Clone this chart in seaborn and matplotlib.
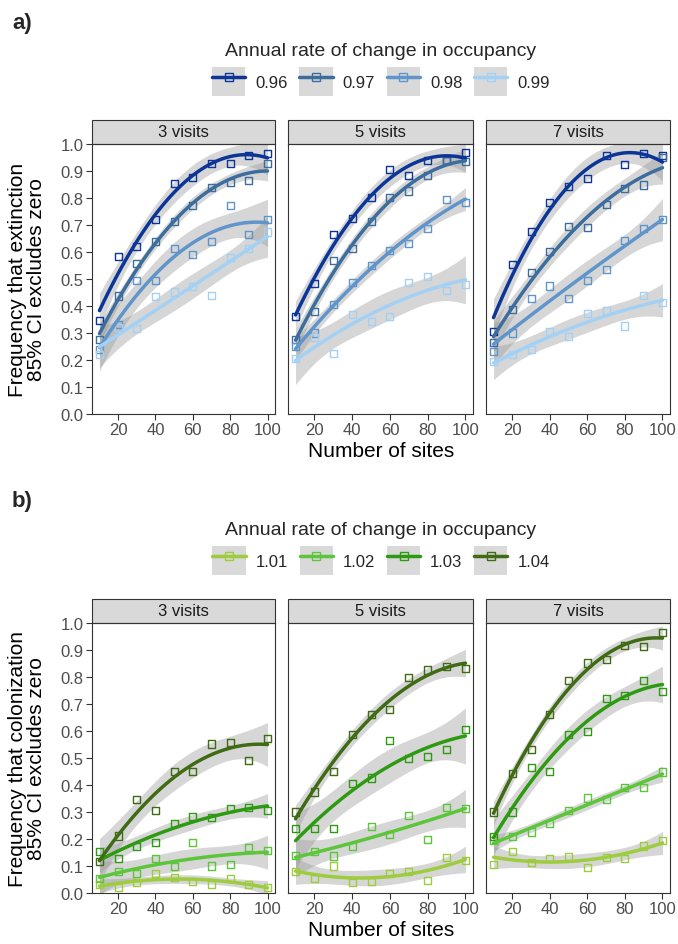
import numpy as np
import pandas as pd
import matplotlib
matplotlib.use("Agg")
import matplotlib.pyplot as plt
import seaborn as sns
from matplotlib.patches import Rectangle, Patch
from matplotlib.lines import Line2D
from matplotlib.legend_handler import HandlerTuple

sns.set_theme(style="white")
plt.rcParams["font.family"] = ["Liberation Sans", "DejaVu Sans"]

# ---------------- data ----------------
sites = [10, 20, 30, 40, 50, 60, 70, 80, 90, 100]
visits = ["3 visits", "5 visits", "7 visits"]
ext_rates = ["0.96", "0.97", "0.98", "0.99"]
col_rates = ["1.01", "1.02", "1.03", "1.04"]
ext_colors = ["#0b3596", "#3c6d9c", "#5f95cb", "#a3d0f5"]
col_colors = ["#9dcc3e", "#5cc53a", "#2e9a12", "#3e6b14"]
y_ticks = [0.0, 0.1, 0.2, 0.3, 0.4, 0.5, 0.6, 0.7, 0.8, 0.9, 1.0]
x_ticks = [20, 40, 60, 80, 100]

# extinction (a)
ext_3v_096 = [0.345, 0.585, 0.62, 0.72, 0.853, 0.877, 0.927, 0.927, 0.958, 0.965]
ext_3v_097 = [0.275, 0.437, 0.557, 0.638, 0.712, 0.773, 0.838, 0.859, 0.866, 0.927]
ext_3v_098 = [0.24, 0.33, 0.493, 0.493, 0.614, 0.592, 0.638, 0.773, 0.665, 0.72]
ext_3v_099 = [0.22, 0.32, 0.318, 0.434, 0.452, 0.472, 0.44, 0.579, 0.614, 0.674]

ext_5v_096 = [0.36, 0.484, 0.665, 0.723, 0.803, 0.905, 0.883, 0.94, 0.94, 0.97]
ext_5v_097 = [0.275, 0.379, 0.567, 0.614, 0.712, 0.803, 0.826, 0.883, 0.94, 0.935]
ext_5v_098 = [0.25, 0.30, 0.406, 0.487, 0.549, 0.607, 0.632, 0.687, 0.793, 0.785]
ext_5v_099 = [0.205, 0.283, 0.225, 0.367, 0.341, 0.36, 0.487, 0.51, 0.458, 0.478]

ext_7v_096 = [0.305, 0.555, 0.675, 0.784, 0.842, 0.871, 0.959, 0.925, 0.965, 0.959]
ext_7v_097 = [0.265, 0.387, 0.523, 0.601, 0.696, 0.69, 0.776, 0.835, 0.848, 0.95]
ext_7v_098 = [0.23, 0.30, 0.427, 0.474, 0.427, 0.495, 0.534, 0.642, 0.687, 0.722]
ext_7v_099 = [0.195, 0.22, 0.24, 0.307, 0.286, 0.372, 0.384, 0.326, 0.44, 0.414]

# colonization (b)
col_3v_101 = [0.032, 0.02, 0.04, 0.072, 0.057, 0.041, 0.03, 0.054, 0.03, 0.02]
col_3v_102 = [0.054, 0.081, 0.072, 0.128, 0.097, 0.187, 0.10, 0.105, 0.167, 0.158]
col_3v_103 = [0.155, 0.128, 0.171, 0.187, 0.259, 0.285, 0.278, 0.312, 0.318, 0.306]
col_3v_104 = [0.115, 0.211, 0.345, 0.306, 0.451, 0.451, 0.552, 0.559, 0.491, 0.573]

col_5v_101 = [0.078, 0.054, 0.10, 0.039, 0.044, 0.072, 0.081, 0.045, 0.131, 0.119]
col_5v_102 = [0.14, 0.155, 0.137, 0.171, 0.245, 0.216, 0.288, 0.199, 0.318, 0.312]
col_5v_103 = [0.238, 0.238, 0.238, 0.407, 0.426, 0.565, 0.497, 0.507, 0.531, 0.605]
col_5v_104 = [0.30, 0.374, 0.451, 0.586, 0.66, 0.679, 0.799, 0.826, 0.838, 0.832]

col_7v_101 = [0.105, 0.155, 0.113, 0.128, 0.134, 0.093, 0.131, 0.128, 0.174, 0.193]
col_7v_102 = [0.195, 0.21, 0.226, 0.257, 0.306, 0.352, 0.347, 0.392, 0.392, 0.448]
col_7v_103 = [0.208, 0.30, 0.464, 0.451, 0.586, 0.598, 0.719, 0.731, 0.786, 0.746]
col_7v_104 = [0.30, 0.442, 0.531, 0.66, 0.786, 0.852, 0.866, 0.918, 0.912, 0.965]

ext_data = {
    "3 visits": [ext_3v_096, ext_3v_097, ext_3v_098, ext_3v_099],
    "5 visits": [ext_5v_096, ext_5v_097, ext_5v_098, ext_5v_099],
    "7 visits": [ext_7v_096, ext_7v_097, ext_7v_098, ext_7v_099],
}
col_data = {
    "3 visits": [col_3v_101, col_3v_102, col_3v_103, col_3v_104],
    "5 visits": [col_5v_101, col_5v_102, col_5v_103, col_5v_104],
    "7 visits": [col_7v_101, col_7v_102, col_7v_103, col_7v_104],
}


def to_frame(data, rates):
    rows = []
    for v, series in data.items():
        for r, vals in zip(rates, series):
            for s, val in zip(sites, vals):
                rows.append((v, r, s, val))
    return pd.DataFrame(rows, columns=["visits", "rate", "sites", "freq"])


ext_df = to_frame(ext_data, ext_rates)
col_df = to_frame(col_data, col_rates)

# ---------------- layout ----------------
W, H = 678, 945
fig = plt.figure(figsize=(W / 100, H / 100), dpi=100)


def add_ax(x0, y0, x1, y1):
    return fig.add_axes([x0 / W, 1 - y1 / H, (x1 - x0) / W, (y1 - y0) / H])


panel_x = [(92, 275), (288, 473), (486, 670)]
EDGE = "#333333"


def quad_band(x, y, xs):
    x = np.asarray(x, float)
    y = np.asarray(y, float)
    X = np.column_stack([np.ones_like(x), x, x ** 2])
    beta, *_ = np.linalg.lstsq(X, y, rcond=None)
    resid = y - X @ beta
    dof = len(x) - 3
    s2 = resid @ resid / dof
    XtX_inv = np.linalg.inv(X.T @ X)
    Xs = np.column_stack([np.ones_like(xs), xs, xs ** 2])
    fit = Xs @ beta
    se = np.sqrt(np.einsum("ij,jk,ik->i", Xs, XtX_inv, Xs) * s2)
    t = 2.3646  # 95% t quantile, 7 df
    return fit - t * se, fit + t * se


def draw_block(off, df, rates, colors, ylabel, tag):
    top, bottom = 145 + off, 415 + off
    for i, v in enumerate(visits):
        x0, x1 = panel_x[i]
        ax = add_ax(x0, top, x1, bottom)
        sub = df[df["visits"] == v]
        for r, c in zip(rates, colors):
            d = sub[sub["rate"] == r]
            xs = np.linspace(d["sites"].min(), d["sites"].max(), 200)
            lo, hi = quad_band(d["sites"], d["freq"], xs)
            ax.fill_between(xs, lo, hi, color="#999999", alpha=0.4, lw=0, zorder=1)
            sns.regplot(data=d, x="sites", y="freq", order=2, ci=None, ax=ax,
                        marker="s", color=c, truncate=True,
                        scatter_kws=dict(facecolors="none", edgecolors=c, s=26,
                                         linewidths=1.0, alpha=1, zorder=2),
                        line_kws=dict(lw=2.5, zorder=3))
        ax.set_xlim(6, 104)
        ax.set_ylim(0, 1.0)
        ax.set_xticks(x_ticks)
        ax.set_yticks(y_ticks)
        ax.set_xlabel("")
        ax.set_ylabel("")
        ax.tick_params(axis="both", direction="out", length=4, width=0.8,
                       color=EDGE, labelcolor="#4d4d4d", labelsize=12, pad=2,
                       bottom=True, left=(i == 0))
        if i == 0:
            ax.set_yticklabels([f"{t:.1f}" for t in y_ticks])
        else:
            ax.set_yticklabels([])
        for sp in ax.spines.values():
            sp.set_color(EDGE)
            sp.set_linewidth(0.8)
        strip_h = 24 / (bottom - top)
        ax.add_patch(Rectangle((0, 1), 1, strip_h, transform=ax.transAxes,
                               clip_on=False, fc="#d9d9d9", ec=EDGE, lw=0.8))
        ax.text(0.5, 1 + strip_h / 2, v, transform=ax.transAxes, ha="center",
                va="center", fontsize=12, color="#1a1a1a")

    # axis titles
    fig.text(381 / W, 1 - (452 + off) / H, "Number of sites", ha="center",
             va="center", fontsize=15, color="black")
    fig.text(27 / W, 1 - ((top + bottom) / 2) / H, ylabel, rotation=90,
             ha="center", va="center", fontsize=15, multialignment="center",
             linespacing=1.0, color="black")
    fig.text(12 / W, 1 - (23 + off) / H, tag, ha="left", va="center",
             fontsize=16, fontweight="bold")

    handles = [(Patch(facecolor="#d9d9d9", edgecolor="none"),
                Line2D([], [], color=c, lw=2.5, marker="s", mfc="none",
                       mec=c, ms=6, mew=1.0)) for c in colors]
    leg = fig.legend(handles, rates, loc="center",
                     bbox_to_anchor=(381 / W, 1 - (70 + off) / H), ncol=4,
                     frameon=False, title="Annual rate of change in occupancy",
                     fontsize=12, title_fontsize=14, handlelength=2.0,
                     handleheight=2.3, handletextpad=0.6, columnspacing=0.7,
                     borderaxespad=0, borderpad=0,
                     handler_map={tuple: HandlerTuple(ndivide=1, pad=0)})
    leg._legend_box.sep = 6


draw_block(0, ext_df, ext_rates, ext_colors,
           "Frequency that extinction\n85% CI excludes zero", "a)")
draw_block(479, col_df, col_rates, col_colors,
           "Frequency that colonization\n85% CI excludes zero", "b)")

fig.savefig("out.png", dpi=100)
